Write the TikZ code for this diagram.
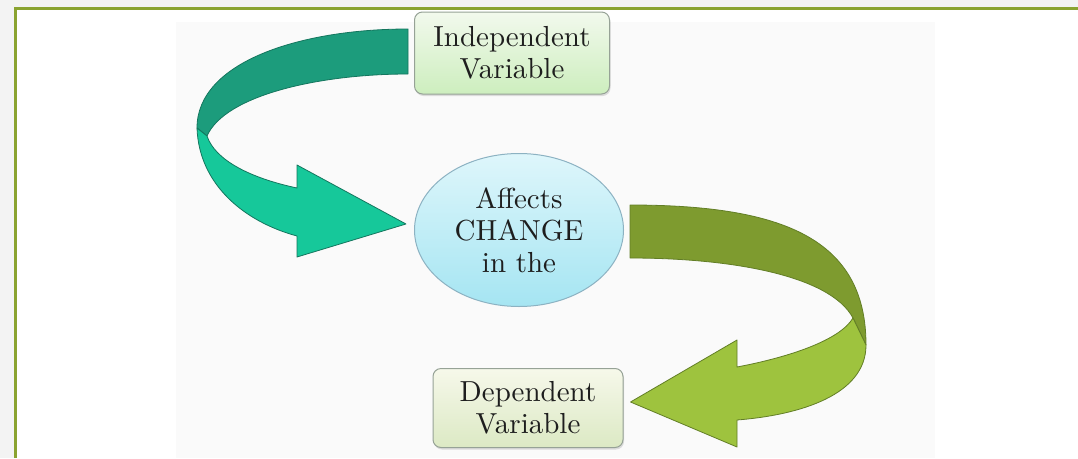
\documentclass[tikz,border=0pt]{standalone}
\usepackage{fontspec}
\setmainfont{lmroman10-regular.otf}
\usepackage{tikz}
\usetikzlibrary{shapes,calc,shadows}
\definecolor{framegreen}{RGB}{138,163,48}
\definecolor{pagegray}{RGB}{243,243,243}
\definecolor{backdrop}{RGB}{250,250,250}
\definecolor{tealdark}{RGB}{28,156,124}
\definecolor{teallight}{RGB}{22,200,154}
\definecolor{tealedge}{RGB}{20,118,94}
\definecolor{olivedark}{RGB}{126,155,47}
\definecolor{olivelight}{RGB}{158,195,62}
\definecolor{oliveedge}{RGB}{98,126,38}
\definecolor{ivtop}{RGB}{242,249,237}
\definecolor{ivbottom}{RGB}{205,238,190}
\definecolor{dvtop}{RGB}{246,248,234}
\definecolor{dvbottom}{RGB}{220,233,196}
\definecolor{ovaltop}{RGB}{222,246,251}
\definecolor{ovalbottom}{RGB}{165,229,242}
\definecolor{boxline}{RGB}{150,162,150}
\definecolor{ovalline}{RGB}{140,178,194}
\definecolor{inkgray}{RGB}{30,30,30}

\begin{document}
\begin{tikzpicture}[x=1pt, y=-1pt,
    every node/.style={font=\fontsize{29}{32}\selectfont, align=center, text=inkgray},
    varbox/.style={draw=boxline, line width=1pt, rounded corners=8pt,
        drop shadow={opacity=0.25, shadow xshift=1pt, shadow yshift=-2pt}},
    affectoval/.style={ellipse, draw=ovalline, line width=1pt, inner sep=0pt,
        top color=ovaltop, bottom color=ovalbottom,
        minimum width=209pt, minimum height=153pt},
    ribbon/.style={draw=#1, line width=0.8pt, line join=round}]
    % Page and frame
    \useasboundingbox (0,0) rectangle (1078,458);
    \fill[pagegray] (0,0) rectangle (1078,458);
    \fill[white] (15,8) rectangle (1078,458);
    \fill[backdrop] (176,22) rectangle (935,458);
    \draw[framegreen, line width=3pt] (15,458) -- (15,8) -- (1078,8);

    % Boxes
    \node[varbox, top color=ivtop, bottom color=ivbottom,
        minimum width=195pt, minimum height=82pt] (iv) at (512,53) {Independent\\Variable};
    \node[affectoval] (eff) at (519,230) {Affects\\CHANGE\\in the};
    \node[varbox, top color=dvtop, bottom color=dvbottom,
        minimum width=190pt, minimum height=79pt] (dv) at (528,408) {Dependent\\Variable};

    % Teal ribbon arrow (back part, then front part)
    \fill[tealdark, ribbon=tealedge] ($(iv.west)+(-6,-24)$) .. controls (300,29) and (197,62) .. (197,128)
        -- (207,136) .. controls (225,95) and (320,74) .. ($(iv.west)+(-6,21)$) -- cycle;
    \fill[teallight, ribbon=tealedge] (197,128) .. controls (199,185) and (245,222) .. (297,236)
        -- (297,257) -- ($(eff.west)+(-8,-6)$) -- (297,165) -- (297,188)
        .. controls (250,178) and (215,160) .. (207,136) -- cycle;

    % Olive ribbon arrow (back part, then front part)
    \fill[olivedark, ribbon=oliveedge] ($(eff.east)+(6,-25)$) .. controls (785,205) and (866,240) .. (866,345)
        -- (853,318) .. controls (830,275) and (730,258) .. ($(eff.east)+(6,28)$) -- cycle;
    \fill[olivelight, ribbon=oliveedge] (866,345) .. controls (866,395) and (800,415) .. (737,420)
        -- (737,447) -- ($(dv.east)+(7,-6)$) -- (737,340) -- (737,367)
        .. controls (790,357) and (840,340) .. (853,318) -- cycle;
\end{tikzpicture}
\end{document}
